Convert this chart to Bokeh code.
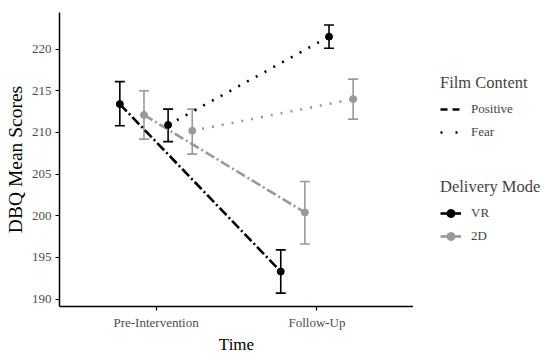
import numpy as np
from bokeh.plotting import figure
from bokeh.layouts import row
from bokeh.models import Legend, LegendItem, FixedTicker, Range1d, Whisker, TeeHead, ColumnDataSource
from bokeh.embed import file_html
from bokeh.resources import INLINE

# ---- data ----
times = ["Pre-Intervention", "Follow-Up"]
groups = ["VR Positive", "2D Positive", "VR Fear", "2D Fear"]
group_mode = ["VR", "2D", "VR", "2D"]
group_content = ["Positive", "Positive", "Fear", "Fear"]

vr_pos_mean = [213.4, 193.3]
vr_pos_low = [210.8, 190.7]
vr_pos_high = [216.1, 195.9]

d2_pos_mean = [212.1, 200.4]
d2_pos_low = [209.2, 196.6]
d2_pos_high = [215.0, 204.1]

vr_fear_mean = [210.9, 221.5]
vr_fear_low = [208.9, 220.1]
vr_fear_high = [212.8, 222.9]

d2_fear_mean = [210.2, 214.0]
d2_fear_low = [207.4, 211.6]
d2_fear_high = [212.8, 216.4]

y_ticks = [190, 195, 200, 205, 210, 215, 220]

means = [vr_pos_mean, d2_pos_mean, vr_fear_mean, d2_fear_mean]
lows = [vr_pos_low, d2_pos_low, vr_fear_low, d2_fear_low]
highs = [vr_pos_high, d2_pos_high, vr_fear_high, d2_fear_high]

# ---- style ----
FONT = "Liberation Serif"
mode_color = {"VR": "black", "2D": "#999999"}
content_dash = {"Positive": "10 3 2 3", "Fear": "2 8"}
dodge_width = 0.6
n = len(groups)
offsets = (np.arange(n) - (n - 1) / 2) * dodge_width / n

p = figure(width=413, height=356, output_backend="svg", toolbar_location=None,
           x_range=Range1d(0.4, 2.6), y_range=Range1d(189.1, 224.4),
           min_border_left=59, min_border_right=0, min_border_top=12, min_border_bottom=45)
p.outline_line_color = None
p.xgrid.visible = False
p.ygrid.visible = False
p.background_fill_color = "white"

xbase = np.arange(1, len(times) + 1)
for i, g in enumerate(groups):
    x = xbase + offsets[i]
    col = mode_color[group_mode[i]]
    dash = content_dash[group_content[i]]
    p.line(x, means[i], line_color=col, line_width=2.6, line_dash=dash)
    src = ColumnDataSource(dict(x=x, lo=lows[i], hi=highs[i]))
    w = Whisker(base="x", lower="lo", upper="hi", source=src, dimension="height",
                line_color=col, line_width=1.6,
                upper_head=TeeHead(size=10, line_color=col, line_width=1.6),
                lower_head=TeeHead(size=10, line_color=col, line_width=1.6))
    p.add_layout(w)
    p.scatter(x, means[i], size=7, fill_color=col, line_color=col)

# axes
p.xaxis.ticker = FixedTicker(ticks=list(xbase))
p.xaxis.major_label_overrides = {int(v): t for v, t in zip(xbase, times)}
p.yaxis.ticker = FixedTicker(ticks=y_ticks)
p.xaxis.axis_label = "Time"
p.yaxis.axis_label = "DBQ Mean Scores"
for ax in (p.xaxis, p.yaxis):
    ax.axis_line_color = "black"
    ax.axis_line_width = 1.5
    ax.major_tick_line_color = "black"
    ax.major_tick_line_width = 1.2
    ax.major_tick_out = 4
    ax.major_tick_in = 0
    ax.minor_tick_line_color = None
    ax.major_label_text_font = FONT
    ax.major_label_text_font_size = "13px"
    ax.major_label_text_color = "#4D4D4D"
    ax.axis_label_text_font = FONT
    ax.axis_label_text_font_style = "normal"
    ax.axis_label_text_color = "black"
p.xaxis.axis_label_text_font_size = "17px"
p.yaxis.axis_label_text_font_size = "19.5px"
p.xaxis.major_label_standoff = 4
p.yaxis.major_label_standoff = 4
p.xaxis.axis_label_standoff = 2
p.yaxis.axis_label_standoff = 3

# ---- legend panel ----
lg = figure(width=137, height=356, output_backend="svg", toolbar_location=None,
            x_axis_type=None, y_axis_type=None, x_range=Range1d(0, 1), y_range=Range1d(0, 1),
            min_border=0)
lg.outline_line_color = None
lg.xgrid.visible = False
lg.ygrid.visible = False

# dummy renderers (drawn off-range, only used for legend glyphs)
hx, hy = [5, 6], [5, 6]
r_pos = lg.line(hx, hy, line_color="black", line_width=2.6, line_dash="7 5")
r_fear = lg.line(hx, hy, line_color="black", line_width=2.6, line_dash="2 13")
r_vr_l = lg.line(hx, hy, line_color=mode_color["VR"], line_width=2.6)
r_vr_p = lg.scatter(hx, hy, size=7, fill_color=mode_color["VR"], line_color=mode_color["VR"])
r_2d_l = lg.line(hx, hy, line_color=mode_color["2D"], line_width=2.6)
r_2d_p = lg.scatter(hx, hy, size=7, fill_color=mode_color["2D"], line_color=mode_color["2D"])

leg_style = dict(border_line_color=None, background_fill_alpha=0,
                 title_text_font=FONT, title_text_font_size="16.5px", title_text_font_style="normal",
                 label_text_font=FONT, label_text_font_size="13px",
                 glyph_width=21, glyph_height=20, label_height=20, spacing=3,
                 padding=0, margin=0, title_standoff=6, label_standoff=10)

leg1 = Legend(title="Film Content", items=[
    LegendItem(label="Positive", renderers=[r_pos]),
    LegendItem(label="Fear", renderers=[r_fear]),
], location=(27, 164), **leg_style)
leg2 = Legend(title="Delivery Mode", items=[
    LegendItem(label="VR", renderers=[r_vr_l, r_vr_p]),
    LegendItem(label="2D", renderers=[r_2d_l, r_2d_p]),
], location=(27, 60), **leg_style)
lg.add_layout(leg1, "center")
lg.add_layout(leg2, "center")

layout = row(p, lg, spacing=0)
open("out.html", "w").write(file_html(layout, INLINE))
